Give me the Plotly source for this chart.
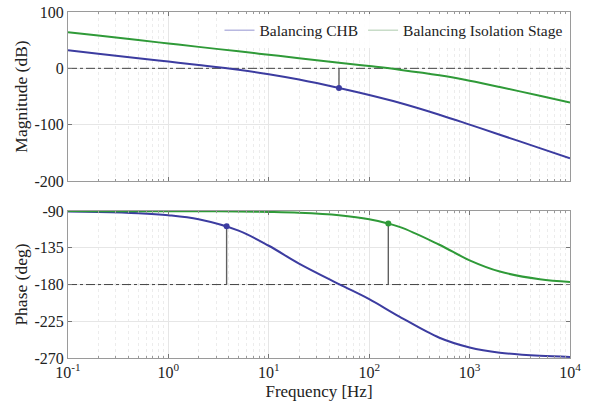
import plotly.graph_objects as go
from plotly.subplots import make_subplots

freq = [0.1, 0.2, 0.5, 1, 2, 5, 10, 20, 50, 100, 200, 500, 1000, 2000, 5000, 10000]

chb_mag = [32.0, 26.0, 18.0, 11.97, 5.86, -2.68, -10.30, -19.83, -34.85, -47.32,
           -61.14, -82.38, -99.89, -117.80, -141.64, -159.69]
chb_phase = [-90.50, -91.01, -92.52, -95.03, -99.99, -113.94, -132.45, -154.31, -179.47,
             -197.90, -219.24, -245.17, -257.07, -263.47, -267.37, -268.69]

iso_mag = [64.11, 58.09, 50.13, 44.11, 38.09, 30.13, 24.11, 18.08, 10.10, 3.98,
           -2.41, -12.35, -22.00, -33.15, -48.79, -60.79]
iso_phase = [-90.01, -90.02, -90.05, -90.10, -90.20, -90.50, -91.01, -92.01, -95.01,
             -99.95, -109.33, -131.25, -150.32, -164.09, -173.50, -176.74]

# margin markers: (frequency, value)
chb_gm = (50, -34.85)        # gain margin point on magnitude
chb_pm = (3.8, -108.6)       # phase margin point
iso_pm = (155, -105.2)       # phase margin point

names = ["Balancing CHB", "Balancing Isolation Stage"]
xtick_vals = [0.1, 1, 10, 100, 1000, 10000]
xtick_text = ["10<sup>-1</sup>", "10<sup>0</sup>", "10<sup>1</sup>", "10<sup>2</sup>",
              "10<sup>3</sup>", "10<sup>4</sup>"]
mag_ticks = [100, 0, -100, -200]
mag_labels = ["100", "0", "-100", "-200"]
phase_ticks = [-90, -135, -180, -225, -270]
phase_labels = ["-90", "-135", "-180", "-225", "-270"]

BLUE = "#3c3ca0"
GREEN = "#2f9a38"
STEM = "#606060"
FONT = "Liberation Serif, Times New Roman, serif"

fig = make_subplots(rows=2, cols=1, shared_xaxes=True, vertical_spacing=0.087,
                    row_heights=[0.535, 0.465])

# reference lines
for row, yv in [(1, 0), (2, -180)]:
    fig.add_trace(go.Scatter(x=[freq[0], freq[-1]], y=[yv, yv], mode="lines",
                             line=dict(color="#444", width=1, dash="dashdot"),
                             showlegend=False, hoverinfo="skip"), row=row, col=1)

# stems
fig.add_trace(go.Scatter(x=[chb_gm[0], chb_gm[0]], y=[0, chb_gm[1]], mode="lines",
                         line=dict(color=STEM, width=1.4), showlegend=False), row=1, col=1)
fig.add_trace(go.Scatter(x=[chb_pm[0], chb_pm[0]], y=[-180, chb_pm[1]], mode="lines",
                         line=dict(color=STEM, width=1.4), showlegend=False), row=2, col=1)
fig.add_trace(go.Scatter(x=[iso_pm[0], iso_pm[0]], y=[-180, iso_pm[1]], mode="lines",
                         line=dict(color=STEM, width=1.4), showlegend=False), row=2, col=1)

# curves
fig.add_trace(go.Scatter(x=freq, y=chb_mag, mode="lines", line=dict(color=BLUE, width=2, shape="spline"),
                         showlegend=False), row=1, col=1)
fig.add_trace(go.Scatter(x=freq, y=iso_mag, mode="lines", line=dict(color=GREEN, width=2, shape="spline"),
                         showlegend=False), row=1, col=1)
fig.add_trace(go.Scatter(x=freq, y=chb_phase, mode="lines", line=dict(color=BLUE, width=2, shape="spline"),
                         showlegend=False), row=2, col=1)
fig.add_trace(go.Scatter(x=freq, y=iso_phase, mode="lines", line=dict(color=GREEN, width=2, shape="spline"),
                         showlegend=False), row=2, col=1)

# markers
fig.add_trace(go.Scatter(x=[chb_gm[0]], y=[chb_gm[1]], mode="markers",
                         marker=dict(color=BLUE, size=6), showlegend=False), row=1, col=1)
fig.add_trace(go.Scatter(x=[chb_pm[0]], y=[chb_pm[1]], mode="markers",
                         marker=dict(color=BLUE, size=6), showlegend=False), row=2, col=1)
fig.add_trace(go.Scatter(x=[iso_pm[0]], y=[iso_pm[1]], mode="markers",
                         marker=dict(color=GREEN, size=6), showlegend=False), row=2, col=1)

# legend entries (faint line samples as in the reference)
fig.add_trace(go.Scatter(x=[None], y=[None], mode="lines", name=names[0],
                         line=dict(color="#b8b8e0", width=1.5)), row=1, col=1)
fig.add_trace(go.Scatter(x=[None], y=[None], mode="lines", name=names[1],
                         line=dict(color="#c8dcc8", width=1.5)), row=1, col=1)

axis_common = dict(showline=True, linecolor="#9a9a9a", linewidth=1, mirror="allticks",
                   ticks="inside", ticklen=4, tickcolor="#777", automargin=False,
                   showgrid=True, gridcolor="#e6e6e6", gridwidth=1,
                   zeroline=False, tickfont=dict(family=FONT, size=16, color="#222"))

for r in (1, 2):
    fig.update_xaxes(type="log", range=[-1, 4], tickvals=xtick_vals, ticktext=xtick_text,
                     minor=dict(dtick="D1", showgrid=True, gridcolor="#ececec", griddash="dot",
                                ticks="inside", ticklen=2, tickcolor="#999"),
                     **axis_common, row=r, col=1)
fig.update_xaxes(showticklabels=False, row=1, col=1)
fig.update_xaxes(title=dict(text="Frequency [Hz]", font=dict(family=FONT, size=17, color="#222"),
                            standoff=4), row=2, col=1)

fig.update_yaxes(range=[-200, 100], tickvals=mag_ticks, ticktext=mag_labels, **axis_common,
                 title=dict(text="Magnitude (dB)", font=dict(family=FONT, size=17.5, color="#222"),
                            standoff=2), row=1, col=1)
fig.update_yaxes(range=[-270, -90], tickvals=phase_ticks, ticktext=phase_labels, **axis_common,
                 title=dict(text="Phase (deg)", font=dict(family=FONT, size=17.5, color="#222"),
                            standoff=2), row=2, col=1)

fig.update_layout(
    width=590, height=414,
    margin=dict(l=68, r=20, t=12, b=56),
    paper_bgcolor="white", plot_bgcolor="white",
    font=dict(family=FONT, size=16, color="#222"),
    legend=dict(orientation="h", x=0.995, xanchor="right", y=0.995, yanchor="top",
                bgcolor="rgba(255,255,255,0.9)", font=dict(family=FONT, size=15.5, color="#222"),
                itemwidth=30, tracegroupgap=0),
)

fig.write_html("out.html", config={"displayModeBar": False},
               post_script="document.body.style.margin='0';document.body.style.overflow='hidden';")
